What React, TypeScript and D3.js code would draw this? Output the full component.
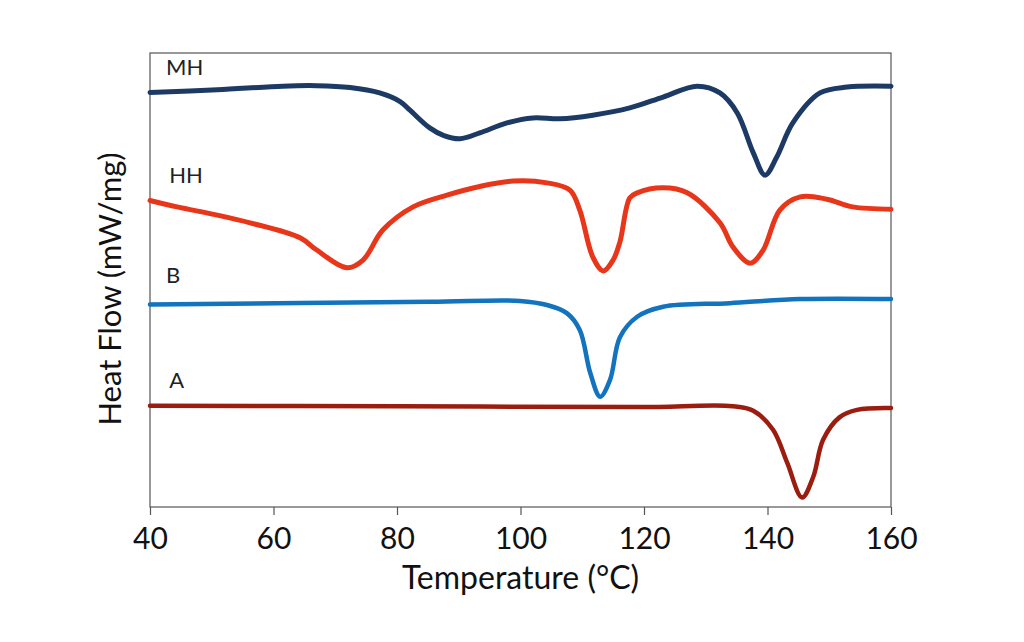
import React, { useEffect, useRef } from "react";
import * as d3 from "d3";

interface Point {
  t: number;
  v: number;
}

// Temperature (°C) and heat flow (arbitrary offset units)
const mhTemp = [40, 50.9, 61.5, 67, 72.4, 77.2, 80.5, 82.1, 85.3, 87.6, 90.2, 93.4, 97.8, 102, 106.4, 111.7, 117.7, 123.1, 128.6, 132.3, 135.1, 137.7, 139.6, 141.5, 144.1, 148.5, 152.9, 160];
const mhFlow = [91.3, 91.9, 92.7, 92.8, 92.4, 91.2, 89.3, 87.4, 83.5, 81.8, 81.1, 82.4, 84.6, 85.7, 85.5, 86.3, 87.9, 90.3, 92.7, 91.2, 86.8, 78.0, 73.1, 77.1, 84.6, 91.2, 92.5, 92.7];

const hhTemp = [40, 44.4, 50.9, 56.2, 64.3, 67, 71.9, 74.5, 77.7, 82.6, 88.1, 93.4, 98.8, 104.3, 108, 109.6, 111.7, 113.4, 115, 116.1, 117.7, 118.9, 123.1, 127, 132.3, 134.4, 137.2, 139.3, 142, 145.3, 149.6, 153.8, 160];
const hhFlow = [67.5, 66.1, 64.3, 62.6, 59.3, 56.6, 52.7, 54.4, 61.0, 66.1, 68.7, 70.6, 71.8, 71.4, 69.8, 65.4, 55.1, 52.0, 54.4, 58.4, 68.1, 69.2, 70.3, 69.2, 62.6, 57.3, 53.7, 56.6, 65.4, 68.3, 67.8, 66.1, 65.6];

const bTemp = [40, 85.3, 99.9, 104.3, 107.5, 109.6, 111.3, 112.9, 114.5, 116.1, 118.9, 123.1, 133.9, 145.3, 160];
const bFlow = [44.6, 45.2, 45.4, 44.5, 42.7, 39.0, 29.5, 24.3, 28.0, 37.4, 41.9, 44.1, 44.9, 45.8, 45.8];

const aTemp = [40, 80, 119.4, 134.4, 137.7, 140.9, 143.2, 145.6, 147.4, 149, 151.7, 154.5, 160];
const aFlow = [22.3, 22.2, 22.0, 22.2, 21.2, 17.0, 9.7, 2.1, 6.6, 14.8, 19.8, 21.4, 21.8];

const seriesNames = ["MH", "HH", "B", "A"];
const seriesColors = ["#1c3a63", "#e8361a", "#1273bf", "#9a1d10"];
const labelTemp = [42.6, 43.1, 42.6, 43.1];
const labelFlow = [95.1, 71.3, 49.3, 26.3];

const xTicks = [40, 60, 80, 100, 120, 140, 160];

const zip = (t: number[], v: number[]): Point[] => t.map((d, i) => ({ t: d, v: v[i] }));

export default function App() {
  const svgRef = useRef<SVGSVGElement>(null);
  const width = 1024;
  const height = 642;

  useEffect(() => {
    if (!svgRef.current) return;
    const svg = d3.select(svgRef.current);
    svg.selectAll("*").remove();

    const margin = { top: 53, right: 133, bottom: 135, left: 150 };
    const innerWidth = width - margin.left - margin.right;
    const innerHeight = height - margin.top - margin.bottom;
    const font = "Lato, 'Open Sans', sans-serif";

    const g = svg.append("g").attr("transform", `translate(${margin.left},${margin.top})`);

    const x = d3.scaleLinear().domain([40, 160]).range([0, innerWidth]);
    const y = d3.scaleLinear().domain([0, 100]).range([innerHeight, 0]);

    // frame
    g.append("rect")
      .attr("x", 0)
      .attr("y", 0)
      .attr("width", innerWidth)
      .attr("height", innerHeight)
      .attr("fill", "none")
      .attr("stroke", "#555")
      .attr("stroke-width", 1.2);

    // x axis ticks
    const xAxis = g.append("g")
      .attr("transform", `translate(0,${innerHeight})`)
      .call(d3.axisBottom(x).tickValues(xTicks).tickSize(8).tickPadding(13).tickFormat(d3.format("d")));
    xAxis.select(".domain").remove();
    xAxis.selectAll(".tick line").attr("stroke", "#555").attr("stroke-width", 1.2);
    xAxis.selectAll(".tick text")
      .attr("fill", "#111")
      .attr("font-family", font)
      .attr("font-size", "30px");

    const line = d3.line<Point>()
      .x(d => x(d.t))
      .y(d => y(d.v))
      .curve(d3.curveCatmullRom.alpha(0.5));

    const allSeries = [zip(mhTemp, mhFlow), zip(hhTemp, hhFlow), zip(bTemp, bFlow), zip(aTemp, aFlow)];
    const widths = [5, 5, 4.5, 4.5];

    allSeries.forEach((s, i) => {
      g.append("path")
        .datum(s)
        .attr("fill", "none")
        .attr("stroke", seriesColors[i])
        .attr("stroke-width", widths[i])
        .attr("stroke-linejoin", "round")
        .attr("stroke-linecap", "round")
        .attr("d", line);

      g.append("text")
        .attr("x", x(labelTemp[i]))
        .attr("y", y(labelFlow[i]))
        .attr("font-family", font)
        .attr("font-size", "22px")
        .attr("fill", "#222")
        .text(seriesNames[i]);
    });

    // axis titles
    svg.append("text")
      .attr("x", margin.left + innerWidth / 2)
      .attr("y", 589)
      .attr("text-anchor", "middle")
      .attr("font-family", font)
      .attr("font-size", "32px")
      .attr("fill", "#111")
      .text("Temperature (°C)");

    svg.append("text")
      .attr("transform", `translate(121,${margin.top + 236}) rotate(-90)`)
      .attr("text-anchor", "middle")
      .attr("font-family", font)
      .attr("font-size", "31px")
      .attr("fill", "#111")
      .text("Heat Flow (mW/mg)");
  }, []);

  return (
    <svg
      ref={svgRef}
      width={width}
      height={height}
      style={{ position: "absolute", left: 0, top: 0, background: "#fff" }}
    />
  );
}
